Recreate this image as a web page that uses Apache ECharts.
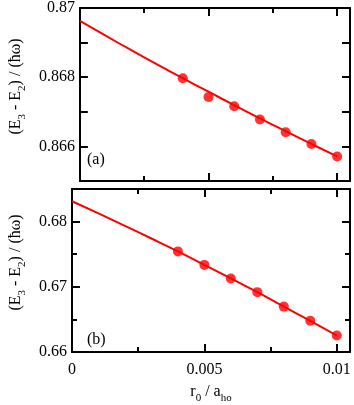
<!DOCTYPE html>
<html lang="en">
<head>
    <meta charset="UTF-8">
    <title>E3 - E2</title>
    <script src="https://cdn.jsdelivr.net/npm/echarts@6/dist/echarts.min.js"></script>
    <style>
        body { margin: 0; background: #fff; }
        #main { width: 354px; height: 405px; }
    </style>
</head>
<body>
<div id="main"></div>
<script>
    // x values of the dots and of the fitted curve
    let xDots = [0.004, 0.005, 0.006, 0.007, 0.008, 0.009, 0.01];
    let xLine = [0, 0.001, 0.002, 0.003, 0.004, 0.005, 0.006, 0.007, 0.008, 0.009, 0.01];

    // panel (a)
    let dotsA = [0.86797, 0.86743, 0.86716, 0.86678, 0.86641, 0.86607, 0.86571];
    let lineA = [0.86963, 0.86920, 0.86878, 0.86837, 0.86797, 0.86758, 0.86719, 0.86681, 0.86644, 0.86607, 0.86571];
    // panel (b)
    let dotsB = [0.67543, 0.67336, 0.67128, 0.66918, 0.66696, 0.66479, 0.66253];
    let lineB = [0.68312, 0.68125, 0.67935, 0.67741, 0.67543, 0.67336, 0.67128, 0.66918, 0.66696, 0.66479, 0.66253];

    // tick labels
    let xLabels = [0, 0.005, 0.01];
    let yLabelsA = [0.866, 0.868, 0.87];
    let yLabelsB = [0.66, 0.67, 0.68];

    let font = '"Liberation Serif", "DejaVu Serif", serif';
    let sub = {fontSize: 11, fontFamily: font, color: '#000', verticalAlign: 'bottom', lineHeight: 24};

    function pairs(xs, ys) {
        return xs.map(function (x, i) { return [x, ys[i]]; });
    }

    // label only the values in the list
    function only(list) {
        return function (v) {
            for (let i = 0; i < list.length; i++) {
                if (Math.abs(v - list[i]) < 1e-9) return String(list[i]);
            }
            return '';
        };
    }

    // one axis of the frame; minor copies only draw short ticks
    function axis(g, pos, min, max, interval, len, opts) {
        let a = {
            type: 'value', gridIndex: g, position: pos, min: min, max: max, interval: interval,
            axisLine: {show: len === 8, onZero: false, lineStyle: {color: '#000', width: 2}},
            axisTick: {show: true, inside: true, length: len, lineStyle: {color: '#000', width: 2}},
            axisLabel: {show: false},
            splitLine: {show: false}
        };
        return Object.assign(a, opts || {});
    }

    function label(list, margin) {
        return {show: true, margin: margin, fontSize: 16, fontFamily: font, color: '#000',
            showMinLabel: true, showMaxLabel: true, hideOverlap: false, formatter: only(list)};
    }

    function yName() {
        return {
            name: '(E{s|3} - E{s|2}) / (ħω)',
            nameLocation: 'middle', nameRotate: 90, nameGap: 44,
            nameTextStyle: {fontSize: 16, fontFamily: font, color: '#000', padding: [0, 0, 0, 16],
                rich: {s: sub}}
        };
    }

    let xAxes = [], yAxes = [];
    [0, 1].forEach(function (g) {
        let labels = g === 1 ? {
            axisLabel: label(xLabels, 10),
            name: 'r{s|0} / a{s|ho}', nameLocation: 'middle', nameGap: 28,
            nameTextStyle: {fontSize: 16, fontFamily: font, color: '#000', rich: {s: sub}}
        } : {};
        xAxes.push(axis(g, 'bottom', 0, 0.0105, 0.005, 8, labels));
        xAxes.push(axis(g, 'bottom', 0, 0.0105, 0.0025, 5));
        xAxes.push(axis(g, 'top', 0, 0.0105, 0.005, 8));
        xAxes.push(axis(g, 'top', 0, 0.0105, 0.0025, 5));

        if (g === 0) {
            let yl = Object.assign({axisLabel: label(yLabelsA, 5)}, yName());
            yAxes.push(axis(g, 'left', 0.865, 0.87, 0.001, 8, yl));
            yAxes.push(axis(g, 'left', 0.865, 0.87, 0.001, 6));
            yAxes.push(axis(g, 'right', 0.865, 0.87, 0.001, 8));
            yAxes.push(axis(g, 'right', 0.865, 0.87, 0.001, 6));
        } else {
            let yl = Object.assign({axisLabel: label(yLabelsB, 5)}, yName());
            yAxes.push(axis(g, 'left', 0.66, 0.685, 0.01, 8, yl));
            yAxes.push(axis(g, 'left', 0.66, 0.685, 0.005, 5));
            yAxes.push(axis(g, 'right', 0.66, 0.685, 0.01, 8));
            yAxes.push(axis(g, 'right', 0.66, 0.685, 0.005, 5));
        }
    });

    function lineSeries(g, data) {
        return {type: 'line', xAxisIndex: g * 4, yAxisIndex: g * 4, data: data, showSymbol: false,
            smooth: true, lineStyle: {color: '#ff0000', width: 2}, silent: true, z: 2};
    }
    function dotSeries(g, data) {
        return {type: 'scatter', xAxisIndex: g * 4, yAxisIndex: g * 4, data: data, symbol: 'circle',
            symbolSize: 10, itemStyle: {color: '#ff0000'}, silent: true, z: 3};
    }

    let mychart = echarts.init(document.getElementById('main'));
    mychart.setOption({
        animation: false,
        grid: [
            {left: 70, top: 6, width: 280, height: 175},
            {left: 70, top: 189, width: 280, height: 173}
        ],
        xAxis: xAxes,
        yAxis: yAxes,
        graphic: [
            {type: 'text', left: 87, top: 152, style: {text: '(a)', fontSize: 16, fontFamily: font, fill: '#000'}},
            {type: 'text', left: 87, top: 332, style: {text: '(b)', fontSize: 16, fontFamily: font, fill: '#000'}}
        ],
        series: [
            lineSeries(0, pairs(xLine, lineA)),
            dotSeries(0, pairs(xDots, dotsA)),
            lineSeries(1, pairs(xLine, lineB)),
            dotSeries(1, pairs(xDots, dotsB))
        ]
    });
</script>
</body>
</html>
